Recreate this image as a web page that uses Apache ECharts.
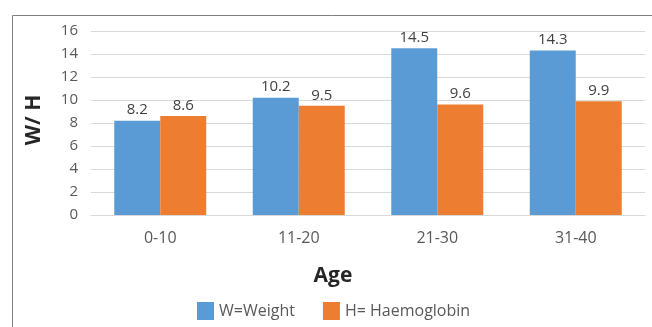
<!DOCTYPE html>
<html>
<head>
<meta charset="utf-8">
<script src="https://cdn.jsdelivr.net/npm/echarts@6/dist/echarts.min.js"></script>
<style>html,body{margin:0;padding:0;background:#fff}#c{width:652px;height:327px}</style>
</head>
<body>
<div id="c"></div>
<script>
var categories = ['0-10', '11-20', '21-30', '31-40'];
var weight = [8.2, 10.2, 14.5, 14.3];
var haemoglobin = [8.6, 9.5, 9.6, 9.9];
var yTicks = [0, 2, 4, 6, 8, 10, 12, 14, 16];
var seriesNames = ['W=Weight', 'H= Haemoglobin'];
var xTitle = 'Age';
var yTitle = 'W/ H';

var FONT = '"Open Sans", sans-serif';
var chart = echarts.init(document.getElementById('c'));
var labelStyle = {show: true, position: 'top', color: '#404040', fontSize: 15, fontFamily: FONT, distance: 3};
chart.setOption({
  animation: false,
  backgroundColor: '#fff',
  textStyle: {fontFamily: FONT},
  grid: {left: 91, right: 7, top: 31, bottom: 112},
  legend: {
    data: seriesNames, left: 197, top: 302, padding: 0, itemWidth: 17, itemHeight: 18, itemGap: 28,
    textStyle: {color: '#595959', fontSize: 16, fontFamily: FONT}, icon: 'rect'
  },
  xAxis: {
    type: 'category', data: categories,
    axisLine: {show: true, lineStyle: {color: '#d9d9d9'}},
    axisTick: {show: false},
    axisLabel: {color: '#595959', fontSize: 16, margin: 15, fontFamily: FONT}
  },
  yAxis: {
    type: 'value', min: yTicks[0], max: yTicks[yTicks.length - 1], interval: yTicks[1] - yTicks[0],
    axisLine: {show: false}, axisTick: {show: false},
    axisLabel: {color: '#595959', fontSize: 15, margin: 13, fontFamily: FONT},
    splitLine: {lineStyle: {color: '#d9d9d9'}}
  },
  graphic: [
    {type: 'rect', left: 10, top: 13, shape: {width: 700, height: 400}, style: {fill: 'none', stroke: '#7f7f7f', lineWidth: 1}, z: -1},
    {type: 'text', x: 333, y: 276, style: {text: xTitle, font: 'bold 21px ' + FONT, fill: '#262626', textAlign: 'center', textVerticalAlign: 'middle'}},
    {type: 'text', x: 34, y: 120, rotation: Math.PI / 2, style: {text: yTitle, font: 'bold 21px ' + FONT, fill: '#262626', textAlign: 'center', textVerticalAlign: 'middle'}}
  ],
  series: [
    {name: seriesNames[0], type: 'bar', data: weight, barGap: '0%', barCategoryGap: '33.6%',
     itemStyle: {color: '#5B9BD5'}, label: labelStyle},
    {name: seriesNames[1], type: 'bar', data: haemoglobin,
     itemStyle: {color: '#ED7D31'}, label: labelStyle}
  ]
});
</script>
</body>
</html>
